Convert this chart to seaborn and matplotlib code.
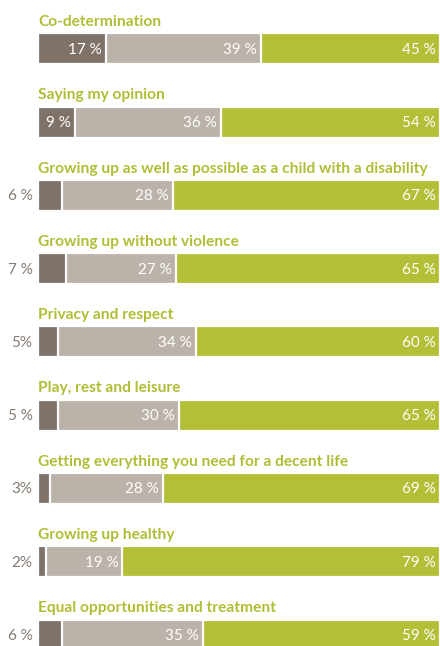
import matplotlib
matplotlib.use("Agg")
import matplotlib.pyplot as plt
import seaborn as sns
import pandas as pd

# Survey topics and the three answer shares per topic
topics = [
    "Co-determination",
    "Saying my opinion",
    "Growing up as well as possible as a child with a disability",
    "Growing up without violence",
    "Privacy and respect",
    "Play, rest and leisure",
    "Getting everything you need for a decent life",
    "Growing up healthy",
    "Equal opportunities and treatment",
]
low = [17, 9, 6, 7, 5, 5, 3, 2, 6]
mid = [39, 36, 28, 27, 34, 30, 28, 19, 35]
high = [45, 54, 67, 65, 60, 65, 69, 79, 59]
low_labels = ["17 %", "9 %", "6 %", "7 %", "5%", "5 %", "3%", "2%", "6 %"]
mid_labels = ["39 %", "36 %", "28 %", "27 %", "34 %", "30 %", "28 %", "19 %", "35 %"]
high_labels = ["45 %", "54 %", "67 %", "65 %", "60 %", "65 %", "69 %", "79 %", "59 %"]

DARK = "#7f7369"
LIGHT = "#bbb2a9"
GREEN = "#b3bf36"
TITLE = "#b1bd35"
OUT_TXT = "#857b73"

sns.set_theme(style="white")
plt.rcParams["font.family"] = ["Lato", "DejaVu Sans"]

W, H = 440, 646
fig = plt.figure(figsize=(W / 100, H / 100), dpi=100)

df = pd.DataFrame({"topic": topics, "low": low, "mid": mid, "high": high})
df["c1"] = df["low"]
df["c2"] = df["low"] + df["mid"]
df["c3"] = df["low"] + df["mid"] + df["high"]

left_px, right_px = 38, 440
bar_h = 31
step = 73.3
first_top = 33.3

for i, row in df.iterrows():
    top = first_top + step * i
    ax = fig.add_axes([left_px / W, 1 - (top + bar_h) / H,
                       (right_px - left_px) / W, bar_h / H])
    one = row.to_frame().T
    one["y"] = 0
    # cumulative bars drawn back to front to form the stack
    for col, colr in (("c3", GREEN), ("c2", LIGHT), ("c1", DARK)):
        sns.barplot(data=one, x=col, y="y", orient="h", color=colr,
                    width=1.0, edgecolor="white", linewidth=1.6,
                    saturation=1, ax=ax)
    ax.set_xlim(0, row["c3"])
    ax.set_ylim(0.5, -0.5)
    ax.axis("off")

    # topic title above the bar
    ax.annotate(row["topic"], xy=(0, 1), xycoords="axes fraction",
                xytext=(0, 5.3), textcoords="offset points",
                ha="left", va="baseline", fontsize=11.2, fontweight="bold",
                color=TITLE)

    # value labels
    ends = [row["c1"], row["c2"], row["c3"]]
    labels = [low_labels[i], mid_labels[i], high_labels[i]]
    for k, (xe, lab) in enumerate(zip(ends, labels)):
        if k == 0 and low[i] < 8:
            ax.annotate(lab, xy=(0, 0), xycoords="data",
                        xytext=(-4, -0.6), textcoords="offset points",
                        ha="right", va="center", fontsize=11,
                        fontweight="normal", color=OUT_TXT,
                        annotation_clip=False)
        else:
            ax.annotate(lab, xy=(xe, 0), xycoords="data",
                        xytext=(-3, -0.6), textcoords="offset points",
                        ha="right", va="center", fontsize=11,
                        fontweight="normal", color="white",
                        annotation_clip=False)

fig.savefig("out.png", dpi=100, facecolor="white")
